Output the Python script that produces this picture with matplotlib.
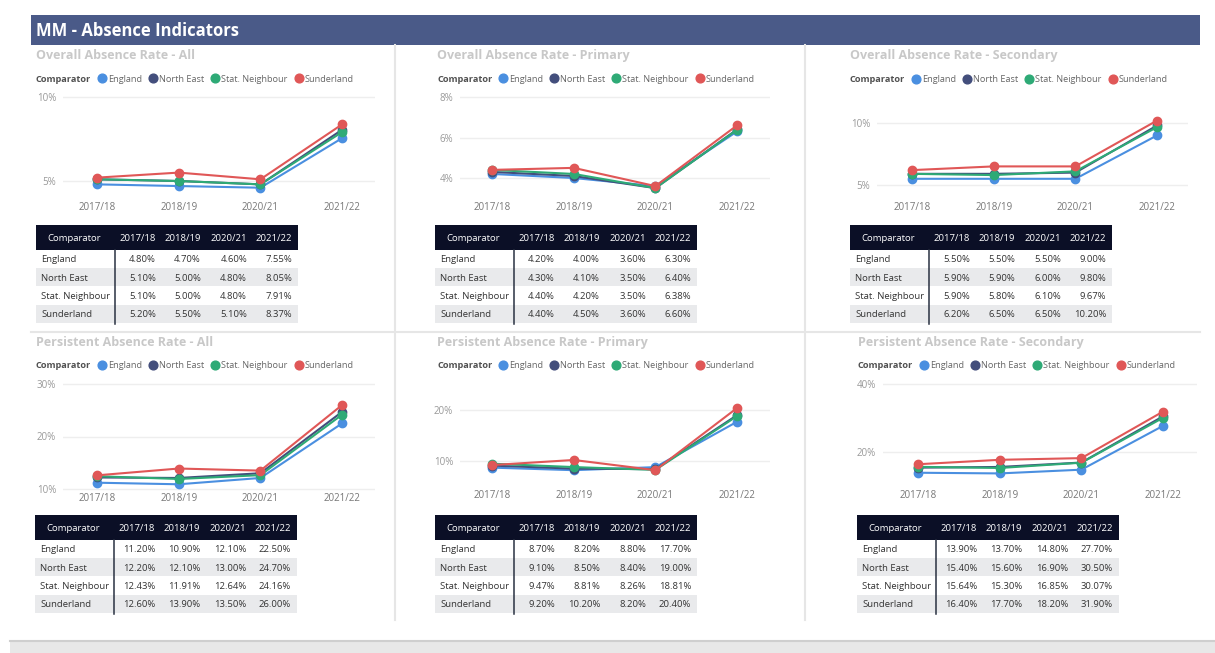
import matplotlib
matplotlib.use('Agg')
import matplotlib.pyplot as plt
from matplotlib.patches import Rectangle
from matplotlib.lines import Line2D

plt.rcParams['font.family'] = ['Open Sans', 'DejaVu Sans']

years = ['2017/18', '2018/19', '2020/21', '2021/22']
comparators = ['England', 'North East', 'Stat. Neighbour', 'Sunderland']
colors = ['#4A8FE0', '#434E7C', '#2EAA76', '#E05757']

overall_all = [[4.80, 4.70, 4.60, 7.55],
               [5.10, 5.00, 4.80, 8.05],
               [5.10, 5.00, 4.80, 7.91],
               [5.20, 5.50, 5.10, 8.37]]
overall_primary = [[4.20, 4.00, 3.60, 6.30],
                   [4.30, 4.10, 3.50, 6.40],
                   [4.40, 4.20, 3.50, 6.38],
                   [4.40, 4.50, 3.60, 6.60]]
overall_secondary = [[5.50, 5.50, 5.50, 9.00],
                     [5.90, 5.90, 6.00, 9.80],
                     [5.90, 5.80, 6.10, 9.67],
                     [6.20, 6.50, 6.50, 10.20]]
persistent_all = [[11.20, 10.90, 12.10, 22.50],
                  [12.20, 12.10, 13.00, 24.70],
                  [12.43, 11.91, 12.64, 24.16],
                  [12.60, 13.90, 13.50, 26.00]]
persistent_primary = [[8.70, 8.20, 8.80, 17.70],
                      [9.10, 8.50, 8.40, 19.00],
                      [9.47, 8.81, 8.26, 18.81],
                      [9.20, 10.20, 8.20, 20.40]]
persistent_secondary = [[13.90, 13.70, 14.80, 27.70],
                        [15.40, 15.60, 16.90, 30.50],
                        [15.64, 15.30, 16.85, 30.07],
                        [16.40, 17.70, 18.20, 31.90]]

W, H = 1215, 653
fig = plt.figure(figsize=(W / 100, H / 100), dpi=100)
fig.patch.set_facecolor('white')


def fx(x):
    return x / W


def fy(y):
    return 1 - y / H


def rect(x0, y0, x1, y1, color, z=1):
    fig.add_artist(Rectangle((fx(x0), fy(y1)), fx(x1) - fx(x0), fy(y0) - fy(y1),
                             transform=fig.transFigure, facecolor=color,
                             edgecolor='none', zorder=z))


def line(xs, ys, color, lw, z=2):
    fig.add_artist(Line2D([fx(x) for x in xs], [fy(y) for y in ys],
                          transform=fig.transFigure, color=color, lw=lw, zorder=z))


# header bar
rect(31, 15, 1200, 45, '#4A5A88')
fig.text(fx(36), fy(31), 'MM - Absence Indicators', color='white', fontsize=12,
         fontweight='bold', va='center', ha='left')

# separators
line([395, 395], [45, 620], '#E6E6E6', 1.5)
line([805, 805], [45, 620], '#E6E6E6', 1.5)
line([31, 1200], [332, 332], '#E6E6E6', 1.5)

# bottom band
rect(10, 641, 1215, 653, '#E8E8E8')
line([10, 1215], [641, 641], '#CFCFCF', 1.5)

panels = [
    dict(title='Overall Absence Rate - All', data=overall_all, tx=36, ty=55, ly=78,
         box=(63, 375, 95, 192), p0=97, ticks=[5, 10], cal=(10, 97, 5, 181),
         pad=7.2, tl=36, tt=225),
    dict(title='Overall Absence Rate - Primary', data=overall_primary, tx=437, ty=55, ly=78,
         box=(460, 770, 95, 192), p0=492, ticks=[4, 6, 8], cal=(8, 97, 4, 178),
         pad=7.2, tl=435, tt=225),
    dict(title='Overall Absence Rate - Secondary', data=overall_secondary, tx=850, ty=55, ly=79,
         box=(877, 1188, 95, 192), p0=912, ticks=[5, 10], cal=(10, 123, 5, 185),
         pad=7.2, tl=850, tt=225),
    dict(title='Persistent Absence Rate - All', data=persistent_all, tx=36, ty=342, ly=365,
         box=(63, 375, 382, 491), p0=97, ticks=[10, 20, 30], cal=(30, 384, 10, 489),
         pad=1.5, tl=35, tt=515),
    dict(title='Persistent Absence Rate - Primary', data=persistent_primary, tx=437, ty=342, ly=365,
         box=(460, 770, 382, 485), p0=492, ticks=[10, 20], cal=(20, 410, 10, 461),
         pad=3.6, tl=435, tt=515),
    dict(title='Persistent Absence Rate - Secondary', data=persistent_secondary, tx=858, ty=342, ly=365,
         box=(883, 1197, 382, 485), p0=918, ticks=[20, 40], cal=(40, 384, 20, 452),
         pad=3.6, tl=857, tt=515),
]

sp = 81.7
renderer = fig.canvas.get_renderer()
VA = 'center_baseline'

for p in panels:
    # title
    fig.text(fx(p['tx']), fy(p['ty'] - 1), p['title'], color='#C8C8C8', fontsize=9,
             fontweight='bold', va=VA, ha='left')

    # legend
    t = fig.text(fx(p['tx']), fy(p['ly']), 'Comparator', color='#505050', fontsize=6.6,
                 fontweight='bold', va=VA, ha='left')
    x = t.get_window_extent(renderer).x1
    for name, c in zip(comparators, colors):
        fig.add_artist(Line2D([fx(x + 11)], [fy(p['ly'])], transform=fig.transFigure,
                              marker='o', markersize=6.3, color=c, lw=0))
        t = fig.text(fx(x + 17), fy(p['ly']), name, color='#666666', fontsize=6.6,
                     va=VA, ha='left')
        x = t.get_window_extent(renderer).x1

    # chart
    l, r, top, bot = p['box']
    ax = fig.add_axes([fx(l), fy(bot), fx(r) - fx(l), fy(top) - fy(bot)])
    v1, y1, v2, y2 = p['cal']
    slope = (v1 - v2) / (y2 - y1)
    ax.set_ylim(v2 - (bot - y2) * slope, v1 + (y1 - top) * slope)
    ax.set_xlim((l - p['p0']) / sp, (r - p['p0']) / sp)
    for vals, c in zip(p['data'], colors):
        ax.plot(range(len(years)), vals, color=c, lw=1.5, marker='o', markersize=6,
                clip_on=False, zorder=3)
    ax.set_xticks(range(len(years)))
    ax.set_xticklabels(years)
    ax.set_yticks(p['ticks'])
    ax.set_yticklabels([f'{v}%' for v in p['ticks']])
    ax.tick_params(axis='x', length=0, pad=p['pad'], labelsize=7, labelcolor='#777777')
    ax.tick_params(axis='y', length=0, pad=5, labelsize=7, labelcolor='#999999')
    ax.grid(axis='y', color='#EEEEEE', lw=1)
    ax.set_axisbelow(True)
    for s in ax.spines.values():
        s.set_visible(False)
    ax.patch.set_alpha(0)

    # table
    L, T = p['tl'], p['tt']
    hh, rh, tw = 24.5, 18.4, 262
    rect(L, T, L + tw, T + hh, '#0B0F26')
    fig.text(fx(L + 38), fy(T + hh / 2), 'Comparator', color='white', fontsize=6.8,
             va=VA, ha='center')
    col_c = [102, 147, 193, 238]
    col_r = [120, 165, 211, 256]
    for yr, cx in zip(years, col_c):
        fig.text(fx(L + cx), fy(T + hh / 2), yr, color='white', fontsize=6.8,
                 va=VA, ha='center')
    for i, (name, vals) in enumerate(zip(comparators, p['data'])):
        y0 = T + hh + i * rh
        if i % 2 == 1:
            rect(L, y0, L + tw, y0 + rh, '#E9EAEC')
        fig.text(fx(L + 5), fy(y0 + rh / 2), name, color='#333333', fontsize=6.8,
                 va=VA, ha='left')
        for v, cr in zip(vals, col_r):
            fig.text(fx(L + cr), fy(y0 + rh / 2), f'{v:.2f}%', color='#333333',
                     fontsize=6.8, va=VA, ha='right')
    line([L + 79, L + 79], [T + hh, T + hh + 4 * rh + 1], '#2A3142', 1.1, z=3)

fig.savefig('out.png', dpi=100)
